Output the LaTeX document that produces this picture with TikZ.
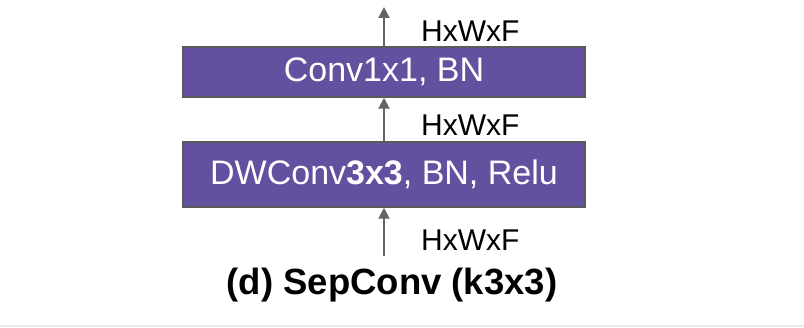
\documentclass[tikz,border=0pt]{standalone}
\usepackage{fontspec}
\setmainfont{Liberation Sans}
\usetikzlibrary{arrows.meta}
\definecolor{layerfill}{RGB}{99,81,160}
\definecolor{layeredge}{RGB}{90,90,90}
\definecolor{flow}{RGB}{100,100,100}
\definecolor{rule}{RGB}{232,232,232}
\begin{document}
\begin{tikzpicture}[x=1pt,y=-1pt,
  layer/.style={draw=layeredge,line width=1.5pt,fill=layerfill,text=white,
    minimum width=402pt,inner sep=0pt,
    font=\fontsize{34}{34}\selectfont},
  flowarrow/.style={draw=flow,line width=2pt,-{Triangle[length=11pt,width=11pt]}},
  dimlabel/.style={anchor=west,inner sep=0pt,font=\fontsize{30}{30}\selectfont},
  caption/.style={font=\fontsize{36.5}{36.5}\selectfont\bfseries}]
\useasboundingbox (0,0) rectangle (804,328);
% layers
\node[layer,minimum height=65pt] (dw) at (384,174.5) {DWConv\textbf{3x3}, BN, Relu};
\node[layer,minimum height=50pt] (pw) at (384,72) {Conv1x1, BN};
% input / output ends
\coordinate (in) at (384,256);
\coordinate (out) at (384,7);
% data flow
\draw[flowarrow] (in) -- (dw.south);
\draw[flowarrow] (dw.north) -- (pw.south);
\draw[flowarrow] (pw.north) -- (out);
% tensor shapes
\node[dimlabel] (s0) at (421,240) {HxWxF};
\node[dimlabel] (s1) at (421,125) {HxWxF};
\node[dimlabel] (s2) at (421,31) {HxWxF};
% caption
\node[caption] (cap) at (392,285) {(d) SepConv (k3x3)};
% bottom rule
\coordinate (ruleL) at (0,326);
\coordinate (ruleR) at (804,326);
\draw[rule,line width=1.5pt] (ruleL) -- (ruleR);
\end{tikzpicture}
\end{document}
